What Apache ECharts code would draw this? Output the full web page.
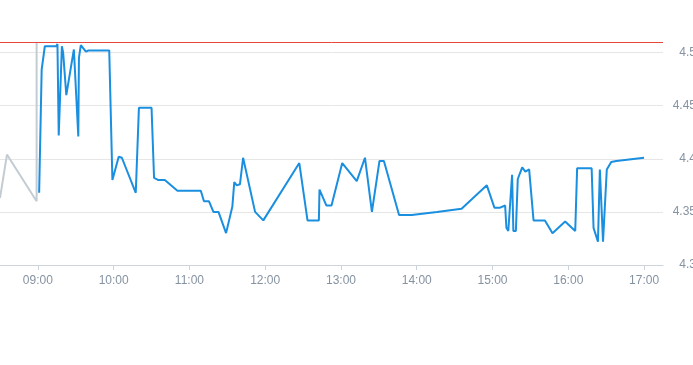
<!DOCTYPE html>
<html>
<head>
<meta charset="utf-8">
<script src="https://cdn.jsdelivr.net/npm/echarts@6/dist/echarts.min.js"></script>
<style>
html,body{margin:0;padding:0;background:#fff}
#main{width:693px;height:365px}
</style>
</head>
<body>
<div id="main"></div>
<script>
// minutes since midnight
var grayTimes = [510, 515.5, 539, 539]
var grayValues = [4.363, 4.404, 4.360, 4.51]

var blueTimes = [541, 543, 545.5, 554.5, 555.5, 556.5, 559, 560, 562.5, 568.5, 572, 572.5, 574, 578, 580, 596.5,
    599, 604, 606.5, 617.5, 618.5, 620, 630, 632, 635.5, 640.5, 650.5, 669, 671.5, 675.5, 679, 683,
    689, 694, 695.5, 697.5, 700, 702.5, 712, 718.5, 747, 753.5, 762.5, 763, 768.5, 772.5, 781, 792.5,
    799, 804.5, 805.5, 810.5, 814, 826, 836, 856, 875.5, 895.5, 901.5, 906, 910, 911, 912.5, 915.5,
    916.5, 918.5, 920, 923.5, 926, 929, 932.5, 941.5, 947.5, 957.5, 965.5, 967, 978.5, 980, 983.5,
    985, 987.5, 990.5, 994, 995.5, 998, 999.5, 1020]
var blueValues = [4.368, 4.484, 4.506, 4.506, 4.508, 4.422, 4.506, 4.500, 4.460, 4.503, 4.421, 4.495, 4.507, 4.501, 4.502, 4.502,
    4.380, 4.402, 4.401, 4.368, 4.368, 4.448, 4.448, 4.382, 4.380, 4.380, 4.370, 4.370, 4.360, 4.360, 4.350, 4.350,
    4.330, 4.355, 4.378, 4.375, 4.376, 4.401, 4.350, 4.342, 4.396, 4.342, 4.342, 4.371, 4.356, 4.356, 4.396, 4.379,
    4.401, 4.350, 4.350, 4.398, 4.398, 4.347, 4.347, 4.350, 4.353, 4.375, 4.354, 4.354, 4.356, 4.335, 4.332, 4.385,
    4.332, 4.332, 4.381, 4.392, 4.388, 4.390, 4.342, 4.342, 4.330, 4.341, 4.332, 4.391, 4.391, 4.335, 4.322,
    4.390, 4.322, 4.390, 4.397, 4.397, 4.398, 4.397, 4.401]

var hourTicks = [540, 600, 660, 720, 780, 840, 900, 960, 1020]
var limitPrice = 4.51

function pairs(xs, ys) {
    var out = []
    for (var i = 0; i < xs.length; i++) {
        out.push([xs[i], ys[i]])
    }
    return out
}

function hhmm(m) {
    var h = Math.floor(m / 60)
    var mm = Math.round(m % 60)
    return (h < 10 ? '0' + h : h) + ':' + (mm < 10 ? '0' + mm : mm)
}

var myChart = echarts.init(document.getElementById('main'), null, {renderer: 'canvas'})
var option = {
    animation: false,
    grid: {left: 0, right: 30, top: 42, bottom: 100, containLabel: false, outerBoundsMode: 'none'},
    xAxis: {
        type: 'value',
        min: 510,
        max: 1035,
        axisLine: {show: true, lineStyle: {color: '#ccd3da'}},
        axisTick: {show: true, length: 5, customValues: hourTicks, lineStyle: {color: '#ccd3da'}},
        splitLine: {show: false},
        axisLabel: {
            customValues: hourTicks,
            color: '#8592a1',
            fontSize: 12,
            margin: 10,
            formatter: function (v) { return hhmm(v) }
        }
    },
    yAxis: {
        type: 'value',
        position: 'right',
        min: 4.3,
        max: 4.51,
        interval: 0.05,
        axisLine: {show: false},
        axisTick: {show: false},
        splitLine: {lineStyle: {color: '#e6e6e6'}},
        axisLabel: {
            color: '#8592a1',
            fontSize: 12,
            align: 'right',
            margin: 33,
            showMaxLabel: false
        }
    },
    series: [
        {
            type: 'line',
            data: pairs(grayTimes, grayValues),
            symbol: 'none',
            lineStyle: {color: '#c3ccd3', width: 2},
            z: 2
        },
        {
            type: 'line',
            data: pairs(blueTimes, blueValues),
            symbol: 'none',
            lineStyle: {color: '#1a8fe0', width: 2},
            z: 3,
            markLine: {
                silent: true,
                symbol: 'none',
                label: {show: false},
                lineStyle: {color: '#e8453c', width: 1, type: 'solid'},
                data: [{yAxis: limitPrice}]
            }
        }
    ]
}
myChart.setOption(option)
</script>
</body>
</html>
